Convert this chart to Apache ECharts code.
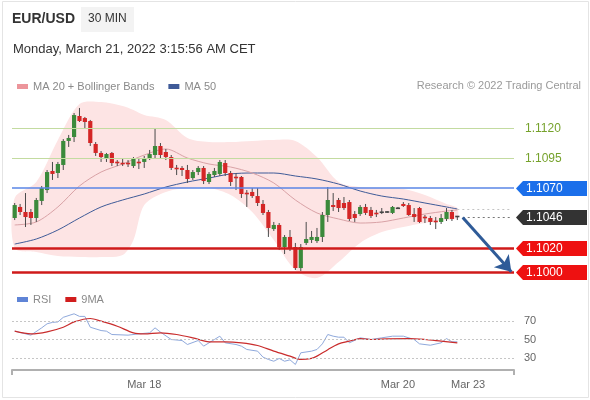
<!DOCTYPE html>
<html><head><meta charset="utf-8">
<script src="https://cdn.jsdelivr.net/npm/echarts@6/dist/echarts.min.js"></script>
<style>html,body{margin:0;padding:0;background:#fff}#c{width:590px;height:400px}</style>
</head><body><div id="c"></div>
<script>
// ---- data ----
const opens = [1.10450,1.10542,1.10500,1.10500,1.10450,1.10592,1.10683,1.10842,1.10825,1.10892,
1.11092,1.11125,1.11300,1.11283,1.11258,1.11067,1.10992,1.10950,1.10992,1.10917,
1.10908,1.10908,1.10883,1.10917,1.10917,1.10950,1.10975,1.11050,1.11000,1.10958,
1.10867,1.10867,1.10850,1.10783,1.10833,1.10867,1.10750,1.10808,1.10817,1.10908,
1.10825,1.10792,1.10792,1.10658,1.10667,1.10633,1.10567,1.10500,1.10358,1.10392,
1.10208,1.10292,1.10208,1.10033,1.10242,1.10267,1.10258,1.10292,1.10475,1.10558,
1.10600,1.10575,1.10583,1.10483,1.10483,1.10542,1.10517,1.10492,1.10500,1.10500,
1.10492,1.10533,1.10567,1.10558,1.10483,1.10533,1.10458,1.10450,1.10425,1.10417,
1.10442,1.10500,1.10465];
const closes = [1.10558,1.10500,1.10458,1.10450,1.10600,1.10700,1.10833,1.10817,1.10900,1.11092,
1.11117,1.11308,1.11258,1.11250,1.11075,1.10992,1.10958,1.10983,1.10908,1.10908,
1.10900,1.10900,1.10950,1.10908,1.10950,1.10983,1.11050,1.10975,1.10958,1.10867,
1.10858,1.10850,1.10775,1.10833,1.10867,1.10758,1.10817,1.10842,1.10917,1.10825,
1.10750,1.10783,1.10650,1.10650,1.10633,1.10575,1.10492,1.10367,1.10392,1.10208,
1.10292,1.10200,1.10033,1.10208,1.10275,1.10292,1.10292,1.10475,1.10600,1.10542,
1.10533,1.10533,1.10442,1.10450,1.10542,1.10492,1.10467,1.10483,1.10496,1.10500,
1.10542,1.10529,1.10550,1.10475,1.10458,1.10417,1.10450,1.10417,1.10417,1.10450,
1.10500,1.10442,1.10460];
const lows = [1.10433,1.10475,1.10375,1.10392,1.10417,1.10558,1.10658,1.10767,1.10783,1.10850,
1.11042,1.11083,1.11250,1.11200,1.11050,1.10967,1.10917,1.10917,1.10883,1.10883,
1.10883,1.10875,1.10867,1.10858,1.10867,1.10933,1.10950,1.10950,1.10933,1.10850,
1.10808,1.10800,1.10742,1.10767,1.10808,1.10733,1.10733,1.10792,1.10800,1.10800,
1.10717,1.10683,1.10617,1.10542,1.10617,1.10550,1.10475,1.10292,1.10342,1.10183,
1.10150,1.10175,1.10017,1.10008,1.10225,1.10242,1.10242,1.10250,1.10417,1.10508,
1.10500,1.10517,1.10425,1.10417,1.10467,1.10475,1.10450,1.10458,1.10483,1.10492,
1.10483,1.10525,1.10542,1.10467,1.10417,1.10408,1.10408,1.10392,1.10358,1.10400,
1.10425,1.10425,1.10433];
const highs = [1.10575,1.10567,1.10658,1.10525,1.10617,1.10717,1.10850,1.10917,1.10917,1.11108,
1.11142,1.11325,1.11367,1.11292,1.11267,1.11083,1.11008,1.10992,1.11000,1.10933,
1.10942,1.10933,1.10958,1.10950,1.10967,1.11017,1.11192,1.11075,1.11025,1.10975,
1.10892,1.10883,1.10892,1.10850,1.10883,1.10883,1.10833,1.10867,1.10933,1.10933,
1.10842,1.10825,1.10800,1.10683,1.10700,1.10700,1.10600,1.10517,1.10417,1.10408,
1.10308,1.10350,1.10242,1.10233,1.10417,1.10342,1.10367,1.10500,1.10708,1.10658,
1.10617,1.10625,1.10600,1.10508,1.10558,1.10567,1.10542,1.10517,1.10533,1.10508,
1.10550,1.10542,1.10583,1.10575,1.10533,1.10542,1.10475,1.10467,1.10458,1.10483,
1.10533,1.10517,1.10467];
const futureSlots = 10;

const bandIdx   = [0,4,8,12,16,20,22,24,28,32,36,40,44,48,52,56,60,64,68,72,76,80,82];
const bandUpper = [1.10617,1.10750,1.11100,1.11400,1.11417,1.11383,1.11350,1.11308,1.11267,1.11117,1.11083,1.11083,1.11092,1.11100,1.11092,1.10958,1.10750,1.10708,1.10700,1.10692,1.10642,1.10567,1.10533];
const bandLower = [1.10200,1.10167,1.10133,1.10125,1.10125,1.10142,1.10267,1.10558,1.10667,1.10700,1.10700,1.10642,1.10500,1.10267,1.10017,1.09950,1.10083,1.10242,1.10333,1.10375,1.10408,1.10433,1.10450];

const maIdx = [0,4,8,12,16,20,24,28,32,36,40,44,48,52,56,60,64,68,72,76,80,82];
const ma20  = [1.10392,1.10417,1.10542,1.10717,1.10833,1.10900,1.10975,1.11025,1.10950,1.10900,1.10875,1.10825,1.10742,1.10600,1.10492,1.10442,1.10408,1.10417,1.10450,1.10483,1.10508,1.10517];
const ma50  = [1.10233,1.10275,1.10350,1.10450,1.10542,1.10600,1.10650,1.10708,1.10750,1.10783,1.10817,1.10825,1.10825,1.10800,1.10775,1.10733,1.10675,1.10633,1.10608,1.10575,1.10542,1.10525];

const rsiIdx = [0,3,5,6,7,8,9,11,12,13,14,16,17,18,21,23,25,26,27,29,31,32,34,35,37,38,39,41,42,43,45,46,47,48,49,50,51,52,53,55,56,57,58,59,60,61,62,64,66,68,70,72,74,75,77,79,80,81,82];
const rsiVal = [59,54.7,62.6,67,68.5,69,74,77.8,75,75,63.3,59.7,59,55.4,54.7,56.1,57.2,62.6,58,50,48.9,44.6,48.9,42.8,50,53.6,46.4,44.6,42.8,39.2,37.4,30.9,28.4,26.5,29.5,26.5,28,23,35.6,37.4,39.2,45.3,55.4,53.6,52.5,52.5,46.4,51.8,50,51.8,53.6,53.6,50,45.3,43.8,46.4,51,47.5,47.5];
const rsiMaIdx = [0,3,6,9,11,14,16,19,22,24,27,30,33,36,39,42,45,48,51,53,55,56,58,60,62,64,66,69,73,76,79,82];
const rsiMaVal = [59,56.1,58.3,63.3,69,72.7,69.8,64.4,57.2,56.1,57.2,55.4,51.8,47.5,47.5,46.4,43.5,37.4,32,28.4,29.5,32,39,45.3,48.2,51,50,50.7,51,50,48.2,46.4];

const tickIndex = [24, 71, 84];
const tickText  = ['Mar 18', 'Mar 20', 'Mar 23'];
const levelsGreen = [1.1120, 1.1095];
const levelBlue = 1.1070;
const levelsRed = [1.1020, 1.1000];
const lastPrice = 1.1046;
const maLast = 1.10525;
const forecastTarget = 1.1000;
const rsiLevels = [70, 50, 30];

// ---- build ----
const FONT = '"Liberation Sans", Arial, sans-serif';
const nCat = opens.length + futureSlots;
const categories = Array.from({length: nCat}, (_, i) => String(i));
const lastIdx = opens.length - 1;
const candleData = opens.map((o, i) => [i, o, closes[i], lows[i], highs[i]]);
const pairs = (idx, vals) => idx.map((i, k) => [i, vals[k]]);

const chart = echarts.init(document.getElementById('c'), null, {renderer: 'canvas'});

function renderCandle(params, api) {
  const i = api.value(0), o = api.value(1), c = api.value(2), l = api.value(3), h = api.value(4);
  const pO = api.coord([i, o]), pC = api.coord([i, c]), pL = api.coord([i, l]), pH = api.coord([i, h]);
  const x = pO[0];
  const w = 4.2;
  let top = Math.min(pO[1], pC[1]), bot = Math.max(pO[1], pC[1]);
  if (bot - top < 1.6) { const m = (top + bot) / 2; top = m - 0.8; bot = m + 0.8; }
  const col = Math.abs(c - o) < 0.00006 ? '#444' : (c > o ? '#3b8a3b' : '#d42626');
  return {type: 'group', children: [
    {type: 'line', shape: {x1: x, y1: pH[1], x2: x, y2: pL[1]}, style: {stroke: '#4a4a4a', lineWidth: 1}},
    {type: 'rect', shape: {x: x - w / 2, y: top, width: w, height: bot - top}, style: {fill: col}}
  ]};
}

function renderBand(params, api) {
  const up = bandIdx.map((i, k) => api.coord([i, bandUpper[k]]));
  const lo = bandIdx.map((i, k) => api.coord([i, bandLower[k]])).reverse();
  return {type: 'polygon', shape: {points: up.concat(lo), smooth: 0.3}, style: {fill: '#fde4e4'}};
}

const levelLines = [
  ...levelsGreen.map(v => ({yAxis: v, lineStyle: {color: '#c3dba0', width: 1, type: 'solid'}})),
  {yAxis: levelBlue, lineStyle: {color: '#5a86e6', width: 1.5, type: 'solid'}},
  ...levelsRed.map(v => ({yAxis: v, lineStyle: {color: '#cf1a1a', width: 2.5, type: 'solid'}})),
  [{coord: [lastIdx, maLast]}, {coord: [nCat - 1, maLast]}],
  [{coord: [lastIdx + 1, lastPrice], lineStyle: {color: '#777', type: [2, 3], width: 1}}, {coord: [nCat - 1, lastPrice]}],
  [{coord: [lastIdx + 1, lastPrice - 0.00005], lineStyle: {color: '#2f5b98', width: 3, type: 'solid'}, symbol: 'none'},
   {coord: [nCat - 1, forecastTarget + 0.00002], symbol: 'arrow', symbolSize: [15, 15]}]
];

const option = {
  animation: false,
  backgroundColor: '#fff',
  textStyle: {fontFamily: FONT},
  grid: [
    {left: 12, right: 76, top: 92, height: 192},
    {left: 12, right: 76, top: 309, height: 61}
  ],
  legend: [
    {left: 12, top: 76, itemWidth: 11, itemHeight: 5, itemGap: 14, icon: 'rect', selectedMode: false,
     textStyle: {color: '#8a8a8a', fontSize: 11, fontFamily: FONT},
     data: [{name: 'MA 20 + Bollinger Bands', itemStyle: {color: '#ec959b'}}, {name: 'MA 50', itemStyle: {color: '#3f5b98'}}]},
    {left: 12, top: 289, itemWidth: 11, itemHeight: 5, itemGap: 14, icon: 'rect', selectedMode: false,
     textStyle: {color: '#8a8a8a', fontSize: 11, fontFamily: FONT},
     data: [{name: 'RSI', itemStyle: {color: '#5f84d6'}}, {name: '9MA', itemStyle: {color: '#d11d1d'}}]}
  ],
  xAxis: [
    {type: 'category', gridIndex: 0, data: categories, boundaryGap: true, show: false},
    {type: 'category', gridIndex: 1, data: categories, boundaryGap: true,
     axisLine: {show: true, lineStyle: {color: '#b0b0b0', width: 2}},
     axisTick: {show: true, interval: (i) => i === 0, length: 5, lineStyle: {color: '#b0b0b0', width: 2}},
     axisLabel: {show: true, color: '#666', fontSize: 11, fontFamily: FONT, margin: 9,
       interval: (i) => tickIndex.indexOf(i) >= 0,
       formatter: (v) => { const k = tickIndex.indexOf(Number(v)); return k >= 0 ? tickText[k] : ''; }},
     splitLine: {show: false}}
  ],
  yAxis: [
    {type: 'value', gridIndex: 0, min: 1.0990, max: 1.1150, show: false},
    {type: 'value', gridIndex: 1, min: 17, max: 83, show: false}
  ],
  series: [
    {type: 'custom', name: 'band', xAxisIndex: 0, yAxisIndex: 0, renderItem: renderBand,
     data: [[0, bandUpper[0]]], silent: true, z: 1, clip: false},
    {type: 'line', name: 'MA 50', xAxisIndex: 0, yAxisIndex: 0, data: pairs(maIdx, ma50),
     smooth: 0.3, symbol: 'none', lineStyle: {color: '#3f5b98', width: 1}, itemStyle: {color: '#3f5b98'}, z: 2,
     markLine: {silent: true, precision: 6, symbol: ['none', 'none'], label: {show: false},
       lineStyle: {color: '#c4c4c4', type: [2, 3], width: 1}, data: levelLines}},
    {type: 'line', name: 'MA 20 + Bollinger Bands', xAxisIndex: 0, yAxisIndex: 0, data: pairs(maIdx, ma20),
     smooth: 0.3, symbol: 'none', lineStyle: {color: '#d9a2a6', width: 1}, itemStyle: {color: '#ec959b'}, z: 2},
    {type: 'custom', name: 'candles', xAxisIndex: 0, yAxisIndex: 0, renderItem: renderCandle,
     data: candleData, encode: {x: 0, y: [1, 2, 3, 4]}, z: 3},
    {type: 'line', name: 'RSI', xAxisIndex: 1, yAxisIndex: 1, data: pairs(rsiIdx, rsiVal),
     symbol: 'none', lineStyle: {color: '#8fa9dc', width: 1}, itemStyle: {color: '#5f84d6'}, z: 2,
     markLine: {silent: true, precision: 0, symbol: ['none', 'none'],
       lineStyle: {color: '#c6c6c6', type: [2, 2], width: 1},
       label: {show: true, position: 'end', distance: 10, color: '#666', fontSize: 11, fontFamily: FONT, formatter: '{c}'},
       data: rsiLevels.map(v => ({yAxis: v}))}},
    {type: 'line', name: '9MA', xAxisIndex: 1, yAxisIndex: 1, data: pairs(rsiMaIdx, rsiMaVal),
     smooth: 0.3, symbol: 'none', lineStyle: {color: '#c92c2c', width: 1.2}, itemStyle: {color: '#d11d1d'}, z: 3}
  ]
};
chart.setOption(option);

// ---- texts and price tags (positions through the axis scale) ----
const py = (v) => chart.convertToPixel({yAxisIndex: 0}, v);
function tag(v, color) {
  const y = Math.round(py(v)) + 0.5;
  return [
    {type: 'polygon', shape: {points: [[516, y], [523, y - 7.5], [587, y - 7.5], [587, y + 7.5], [523, y + 7.5]]}, style: {fill: color}, z: 10},
    {type: 'text', x: 526, y: y, style: {text: v.toFixed(4), fill: '#fff', font: '12px ' + FONT, verticalAlign: 'middle', align: 'left'}, z: 11}
  ];
}
const graphics = [
  {type: 'rect', shape: {x: 2.5, y: 1.5, width: 586, height: 396}, style: {fill: 'none', stroke: '#e4e4e4', lineWidth: 1}, z: 0, silent: true},
  {type: 'text', x: 12, y: 19, style: {text: 'EUR/USD', fill: '#333', font: 'bold 14px ' + FONT, verticalAlign: 'middle'}},
  {type: 'rect', shape: {x: 81, y: 7, width: 53, height: 25}, style: {fill: '#f3f3f3'}},
  {type: 'text', x: 88, y: 19, style: {text: '30 MIN', fill: '#333', font: '12px ' + FONT, verticalAlign: 'middle'}},
  {type: 'text', x: 13, y: 49, style: {text: 'Monday, March 21, 2022 3:15:56 AM CET', fill: '#333', font: '13px ' + FONT, verticalAlign: 'middle'}},
  {type: 'text', x: 581, y: 86, style: {text: 'Research \u00a9 2022 Trading Central', fill: '#9a9a9a', font: '11px ' + FONT, verticalAlign: 'middle', align: 'right'}},
  ...levelsGreen.map(v => ({type: 'text', x: 525, y: Math.round(py(v)) + 0.5,
     style: {text: v.toFixed(4), fill: '#76a22c', font: '12px ' + FONT, verticalAlign: 'middle'}})),
  ...tag(levelBlue, '#1b6fea'),
  ...tag(lastPrice, '#333333'),
  ...levelsRed.flatMap(v => tag(v, '#ee1111'))
];
chart.setOption({graphic: graphics});
</script>
</body></html>
